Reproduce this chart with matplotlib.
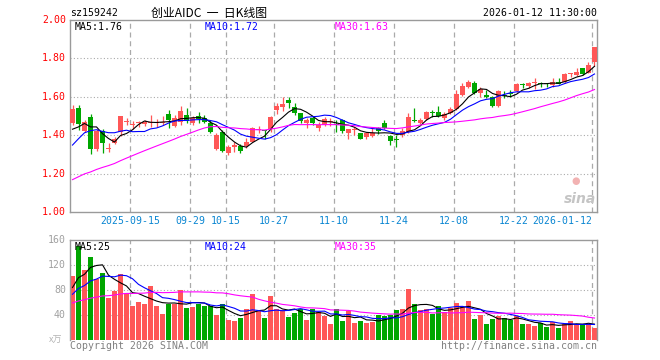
#!/usr/bin/env python3
# -*- coding: utf-8 -*-

"""
plot.py
-------
Grafico K giornaliero (stile Sina) per sz159242 con MA5/MA10/MA30
e pannello dei volumi. Salva out.png (660x360).
"""

import matplotlib
matplotlib.use("Agg")
import matplotlib.pyplot as plt
import pandas as pd

W, H = 660, 360

# ==========================================================
#   DATI
# ==========================================================

# chiusure / volumi dei 29 giorni prima del primo candle (servono solo per le medie)
pre_close = [1.01, 1.02, 1.03, 1.03, 1.04, 1.05, 1.05, 1.06, 1.07, 1.07,
             1.08, 1.09, 1.10, 1.10, 1.11, 1.12, 1.12, 1.13, 1.14, 1.15,
             1.13, 1.16, 1.22, 1.37, 1.45, 1.40, 1.38, 1.42, 1.42]
pre_vol = [52, 55, 58, 48, 50, 55, 47, 53, 49, 56,
           51, 48, 54, 50, 57, 52, 49, 55, 53, 52,
           58, 65, 60, 68, 61, 72, 85, 78, 83]

opens = [1.465, 1.540, 1.424, 1.493, 1.330, 1.424, 1.328, 1.358, 1.415, 1.467,
         1.453, 1.462, 1.457, 1.463, 1.463, 1.465, 1.510, 1.448, 1.470, 1.505,
         1.465, 1.500, 1.488, 1.462, 1.326, 1.418, 1.309, 1.341, 1.346, 1.342,
         1.365, 1.425, 1.426, 1.431, 1.531, 1.549, 1.583, 1.545, 1.514, 1.465,
         1.488, 1.436, 1.453, 1.468, 1.454, 1.479, 1.410, 1.425, 1.410, 1.389,
         1.396, 1.436, 1.465, 1.396, 1.380, 1.401, 1.418, 1.478, 1.462, 1.484,
         1.520, 1.521, 1.488, 1.517, 1.535, 1.609, 1.653, 1.672, 1.618, 1.605,
         1.601, 1.552, 1.608, 1.620, 1.630, 1.663, 1.656, 1.672, 1.671, 1.667,
         1.661, 1.679, 1.676, 1.717, 1.714, 1.748, 1.722, 1.783]
closes = [1.536, 1.460, 1.470, 1.330, 1.420, 1.361, 1.333, 1.378, 1.500, 1.472,
          1.458, 1.470, 1.470, 1.467, 1.466, 1.470, 1.479, 1.488, 1.526, 1.474,
          1.488, 1.483, 1.471, 1.418, 1.401, 1.318, 1.340, 1.345, 1.319, 1.366,
          1.436, 1.430, 1.423, 1.493, 1.554, 1.562, 1.569, 1.514, 1.476, 1.479,
          1.462, 1.453, 1.483, 1.472, 1.451, 1.424, 1.431, 1.429, 1.380, 1.410,
          1.413, 1.424, 1.436, 1.372, 1.376, 1.424, 1.495, 1.474, 1.479, 1.523,
          1.516, 1.500, 1.510, 1.535, 1.616, 1.657, 1.677, 1.618, 1.639, 1.601,
          1.552, 1.630, 1.604, 1.616, 1.665, 1.660, 1.674, 1.676, 1.667, 1.665,
          1.676, 1.667, 1.719, 1.720, 1.731, 1.717, 1.766, 1.861]
highs = [1.557, 1.557, 1.478, 1.512, 1.430, 1.431, 1.358, 1.392, 1.502, 1.488,
         1.476, 1.476, 1.479, 1.505, 1.483, 1.500, 1.531, 1.505, 1.552, 1.540,
         1.502, 1.522, 1.505, 1.479, 1.410, 1.427, 1.347, 1.366, 1.352, 1.383,
         1.445, 1.450, 1.428, 1.500, 1.566, 1.597, 1.600, 1.566, 1.514, 1.488,
         1.500, 1.470, 1.497, 1.488, 1.479, 1.486, 1.431, 1.445, 1.413, 1.418,
         1.436, 1.445, 1.479, 1.401, 1.401, 1.436, 1.518, 1.540, 1.488, 1.527,
         1.531, 1.552, 1.522, 1.549, 1.635, 1.670, 1.688, 1.684, 1.649, 1.635,
         1.604, 1.635, 1.630, 1.635, 1.670, 1.670, 1.679, 1.696, 1.679, 1.674,
         1.696, 1.696, 1.722, 1.726, 1.748, 1.748, 1.783, 1.861]
lows = [1.455, 1.425, 1.418, 1.304, 1.320, 1.306, 1.310, 1.354, 1.397, 1.452,
        1.430, 1.444, 1.448, 1.444, 1.444, 1.453, 1.436, 1.441, 1.453, 1.462,
        1.454, 1.462, 1.462, 1.410, 1.322, 1.313, 1.297, 1.314, 1.305, 1.333,
        1.362, 1.410, 1.380, 1.418, 1.510, 1.527, 1.540, 1.505, 1.462, 1.440,
        1.453, 1.424, 1.448, 1.448, 1.418, 1.413, 1.380, 1.400, 1.378, 1.378,
        1.392, 1.405, 1.431, 1.349, 1.337, 1.392, 1.410, 1.467, 1.457, 1.479,
        1.497, 1.497, 1.480, 1.509, 1.531, 1.604, 1.644, 1.615, 1.601, 1.592,
        1.545, 1.549, 1.592, 1.597, 1.627, 1.644, 1.644, 1.639, 1.649, 1.653,
        1.653, 1.665, 1.674, 1.701, 1.708, 1.714, 1.722, 1.760]
volumes = [102.0, 150.9, 111.7, 133.2, 98.3, 107.5, 67.8, 78.5, 105.3, 73.2,
           53.9, 60.8, 57.1, 86.0, 53.9, 41.0, 57.1, 58.1, 79.6, 51.2,
           52.8, 58.1, 53.9, 53.9, 39.4, 58.1, 31.3, 29.7, 35.6, 50.1,
           73.2, 45.8, 35.1, 69.9, 50.1, 47.4, 36.7, 43.7, 50.1, 31.3,
           50.1, 44.7, 37.8, 24.9, 50.1, 30.3, 46.3, 27.1, 30.3, 27.1,
           28.1, 39.4, 37.8, 39.4, 47.4, 50.1, 81.2, 57.1, 47.4, 49.0,
           42.1, 53.9, 44.7, 51.2, 58.7, 52.8, 61.9, 33.0, 39.4, 24.9,
           33.0, 37.8, 35.6, 32.4, 37.8, 24.9, 24.9, 21.7, 27.1, 20.6,
           28.7, 19.0, 26.0, 29.7, 26.0, 26.0, 26.0, 19.0]

# etichette asse x (indice del candle)
tick_labels = ["2025-09-15", "09-29", "10-15", "10-27", "11-10",
               "11-24", "12-08", "12-22", "2026-01-12"]
tick_index = [10, 20, 26, 34, 44, 54, 64, 74, 87]

price_ticks = [2.00, 1.80, 1.60, 1.40, 1.20, 1.00]
vol_ticks = [160, 120, 80, 40]

price_ma_text = ["MA5:1.76", "MA10:1.72", "MA30:1.63"]
vol_ma_text = ["MA5:25", "MA10:24", "MA30:35"]

# ==========================================================
#   STILE
# ==========================================================

RED = "#ff5757"
GREEN = "#00a600"
FRAME = "#9a9a9a"
GRID = "#aaaaaa"
DATE_BLUE = "#0a86d2"
MA_COLORS = ["#000000", "#0000ff", "#ff00ff"]
MONO = "DejaVu Sans Mono"
CJK = ["Noto Sans CJK SC", "DejaVu Sans"]
FS = 7.1
HALF = 5 / 12   # mezzo slot -> bordo sinistro del corpo


def px_axes(fig, x0, y0, x1, y1):
    return fig.add_axes([x0 / W, 1 - y1 / H, (x1 - x0) / W, (y1 - y0) / H])


def ftext(fig, x, y, s, **kw):
    kw.setdefault("family", MONO)
    kw.setdefault("fontsize", FS)
    fig.text(x / W, 1 - y / H, s, **kw)


def moving_avg(pre, values, n):
    s = pd.Series(list(pre) + list(values), dtype=float)
    return s.rolling(n).mean().to_numpy()[len(pre):]


def style_panel(ax, ymin, ymax, hgrid, bottom=True):
    n = len(closes)
    ax.set_xlim(-HALF, n - 1 + HALF)
    ax.set_ylim(ymin, ymax)
    ax.set_xticks([])
    ax.set_yticks([])
    for name, sp in ax.spines.items():
        sp.set_color(FRAME)
        sp.set_linewidth(1.0)
    if not bottom:
        ax.spines["bottom"].set_visible(False)
    for v in hgrid:
        ax.axhline(v, color=GRID, lw=0.8, ls=(0, (1, 2)), zorder=0)
    for i in tick_index:
        ax.axvline(i - HALF, color=GRID, lw=0.9, ls=(0, (4, 3)), zorder=0)


# ==========================================================
#   PLOT
# ==========================================================

def main():
    n = len(closes)
    x = list(range(n))
    up = [c >= o for o, c in zip(opens, closes)]
    colors = [RED if u else GREEN for u in up]

    fig = plt.figure(figsize=(W / 100, H / 100), dpi=100)
    fig.patch.set_facecolor("white")

    # ---- pannello prezzi
    ax = px_axes(fig, 70, 20, 597, 212)
    style_panel(ax, 1.0, 2.0, [1.2, 1.4, 1.6, 1.8])

    ax.vlines(x, lows, highs, colors=colors, lw=0.9, zorder=2)
    bottoms = [min(o, c) for o, c in zip(opens, closes)]
    heights = [max(abs(c - o), 0.006) for o, c in zip(opens, closes)]
    ax.bar(x, heights, bottom=bottoms, width=5 / 6, color=colors,
           linewidth=0, zorder=3)

    for w, col in zip([5, 10, 30], MA_COLORS):
        ax.plot(x, moving_avg(pre_close, closes, w), color=col, lw=0.8, zorder=4)

    for p in price_ticks:
        ax.text(-4 / 527, p, f"{p:.2f}", transform=ax.get_yaxis_transform(),
                ha="right", va="center", color="#ff0000", family=MONO, fontsize=FS)

    for lab, i in zip(tick_labels, tick_index):
        ha = "right" if i == tick_index[-1] else "center"
        ax.text(i - HALF, -9 / 192, lab, transform=ax.get_xaxis_transform(),
                ha=ha, va="center", color=DATE_BLUE, family=MONO, fontsize=FS)

    # watermark sina
    ftext(fig, 576, 181, "\u25cf", ha="center", va="center", color="#f2b2b2",
          family="DejaVu Sans", fontsize=7)
    ftext(fig, 580, 199, "sina", ha="center", va="center", color="#c4c4c4",
          family="DejaVu Sans", fontsize=10, fontweight="bold", fontstyle="italic")

    # ---- pannello volumi
    axv = px_axes(fig, 70, 240, 597, 340)
    style_panel(axv, 0, 160, [40, 80, 120], bottom=False)
    axv.bar(x, volumes, width=5 / 6, color=colors, linewidth=0, zorder=2)
    for w, col in zip([5, 10, 30], MA_COLORS):
        axv.plot(x, moving_avg(pre_vol, volumes, w), color=col, lw=0.8, zorder=4)

    for v in vol_ticks:
        axv.text(-4 / 527, v, f"{v}", transform=axv.get_yaxis_transform(),
                 ha="right", va="center", color="#a0a0a0", family=MONO, fontsize=FS)
    ftext(fig, 56, 340, "x万", ha="center", va="center", color="#b4b4b4",
          family=CJK, fontsize=6.5)

    # ---- testi
    ftext(fig, 70, 13, "sz159242", ha="left", va="center", color="black")
    ftext(fig, 151, 13, "创业AIDC  一  日K线图", ha="left", va="center",
          color="black", family=CJK, fontsize=8.6)
    ftext(fig, 597, 13, "2026-01-12 11:30:00", ha="right", va="center", color="black")

    for k, (t, col) in enumerate(zip(price_ma_text, MA_COLORS)):
        ftext(fig, 75 + 130 * k, 26.5, t, ha="left", va="center", color=col)
    for k, (t, col) in enumerate(zip(vol_ma_text, MA_COLORS)):
        ftext(fig, 75 + 130 * k, 246.5, t, ha="left", va="center", color=col)

    ftext(fig, 70, 346, "Copyright 2026 SINA.COM", ha="left", va="center",
          color="#808080")
    ftext(fig, 597, 346, "http://finance.sina.com.cn", ha="right", va="center",
          color="#808080")

    fig.savefig("out.png", dpi=100)


if __name__ == "__main__":
    main()
